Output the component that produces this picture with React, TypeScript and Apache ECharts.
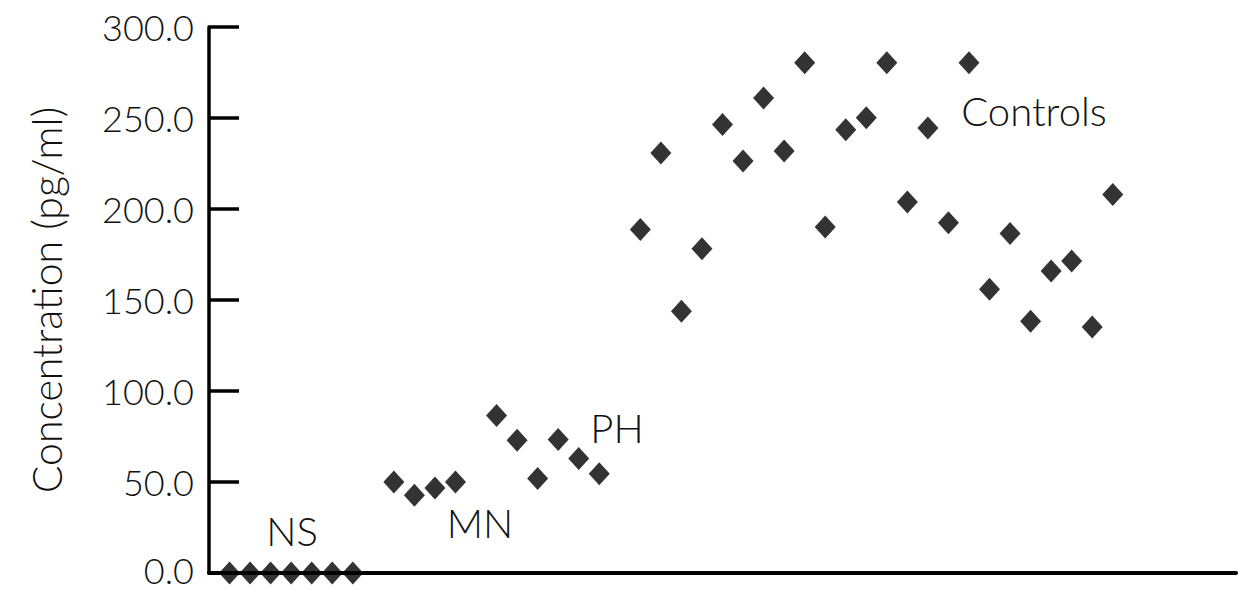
import React, { useEffect, useRef } from "react";
import * as echarts from "echarts";

// Subject index (position along the x axis) and concentration (pg/ml)
const nsX = [1, 2, 3, 4, 5, 6, 7];
const nsY = [0, 0, 0, 0, 0, 0, 0];
const mnX = [9, 10, 11, 12];
const mnY = [50.0, 42.7, 46.7, 50.0];
const phX = [14, 15, 16, 17, 18, 19];
const phY = [86.5, 72.9, 51.9, 73.3, 62.9, 54.6];
const ctrlX = [21, 22, 23, 24, 25, 26, 27, 28, 29, 30, 31, 32, 33, 34, 35, 36, 37, 38, 39, 40, 41, 42, 43, 44];
const ctrlY = [188.8, 230.8, 143.8, 178.2, 246.4, 226.4, 261.0, 231.9, 280.4, 190.1, 243.6, 250.2, 280.4, 203.8, 244.5, 192.5, 280.4, 155.9, 186.5, 138.3, 165.9, 171.4, 135.2, 207.9];
const groupLabels = ["NS", "MN", "PH", "Controls"];
const yTicks = [0, 50, 100, 150, 200, 250, 300];
const yTitle = "Concentration (pg/ml)";

const FONT = "Lato, 'Noto Sans', sans-serif";

function pairs(xs: number[], ys: number[]) {
  return xs.map((x, i) => [x, ys[i]]);
}

export default function App() {
  const ref = useRef<HTMLDivElement>(null);
  useEffect(() => {
    if (!ref.current) return;
    const chart = echarts.init(ref.current, undefined, { renderer: "svg" });
    const allData = [
      ...pairs(nsX, nsY),
      ...pairs(mnX, mnY),
      ...pairs(phX, phY),
      ...pairs(ctrlX, ctrlY),
    ];
    const labelPos: Record<string, [number, number]> = {
      NS: [292, 531],
      MN: [480, 523],
      PH: [617, 428],
      Controls: [1034, 111],
    };
    chart.setOption({
      animation: false,
      backgroundColor: "#ffffff",
      grid: {
        left: 209,
        right: 2,
        top: 27,
        bottom: 18,
        containLabel: false,
        outerBoundsMode: "none",
      },
      xAxis: {
        type: "value",
        min: 0,
        max: 50,
        axisLine: { show: true, onZero: false, lineStyle: { color: "#000", width: 4 } },
        axisTick: { show: false },
        axisLabel: { show: false },
        splitLine: { show: false },
      },
      yAxis: {
        type: "value",
        min: yTicks[0],
        max: yTicks[yTicks.length - 1],
        interval: 50,
        name: yTitle,
        nameLocation: "middle",
        nameGap: 142,
        nameRotate: 90,
        nameTextStyle: { fontFamily: FONT, fontSize: 41, fontWeight: 300, color: "#111" },
        axisLine: { show: true, lineStyle: { color: "#000", width: 3.5 } },
        axisTick: { show: true, inside: true, length: 30, lineStyle: { color: "#000", width: 3.5 } },
        axisLabel: {
          margin: 15,
          fontFamily: FONT,
          fontSize: 36,
          fontWeight: 300,
          lineHeight: 26,
          color: "#111",
          formatter: (v: number) => (v === 0 ? "{z|" + v.toFixed(1) + "}" : v.toFixed(1)),
          rich: {
            z: {
              fontFamily: FONT,
              fontSize: 36,
              fontWeight: 300,
              color: "#111",
              lineHeight: 26,
              padding: [0, 0, 6, 0],
            },
          },
        },
        splitLine: { show: false },
      },
      series: [
        {
          type: "scatter",
          symbol: "diamond",
          symbolSize: [21, 23],
          itemStyle: { color: "#000" },
          data: allData,
        },
      ],
      graphic: groupLabels.map((t) => ({
        type: "text",
        x: labelPos[t][0],
        y: labelPos[t][1],
        style: {
          text: t,
          fontFamily: FONT,
          fontSize: 40,
          fontWeight: 300,
          fill: "#111",
          align: "center",
          verticalAlign: "middle",
        },
      })),
    });
    return () => chart.dispose();
  }, []);
  return (
    <div
      ref={ref}
      style={{ position: "fixed", left: 0, top: 0, width: 1238, height: 591, background: "#fff" }}
    />
  );
}
